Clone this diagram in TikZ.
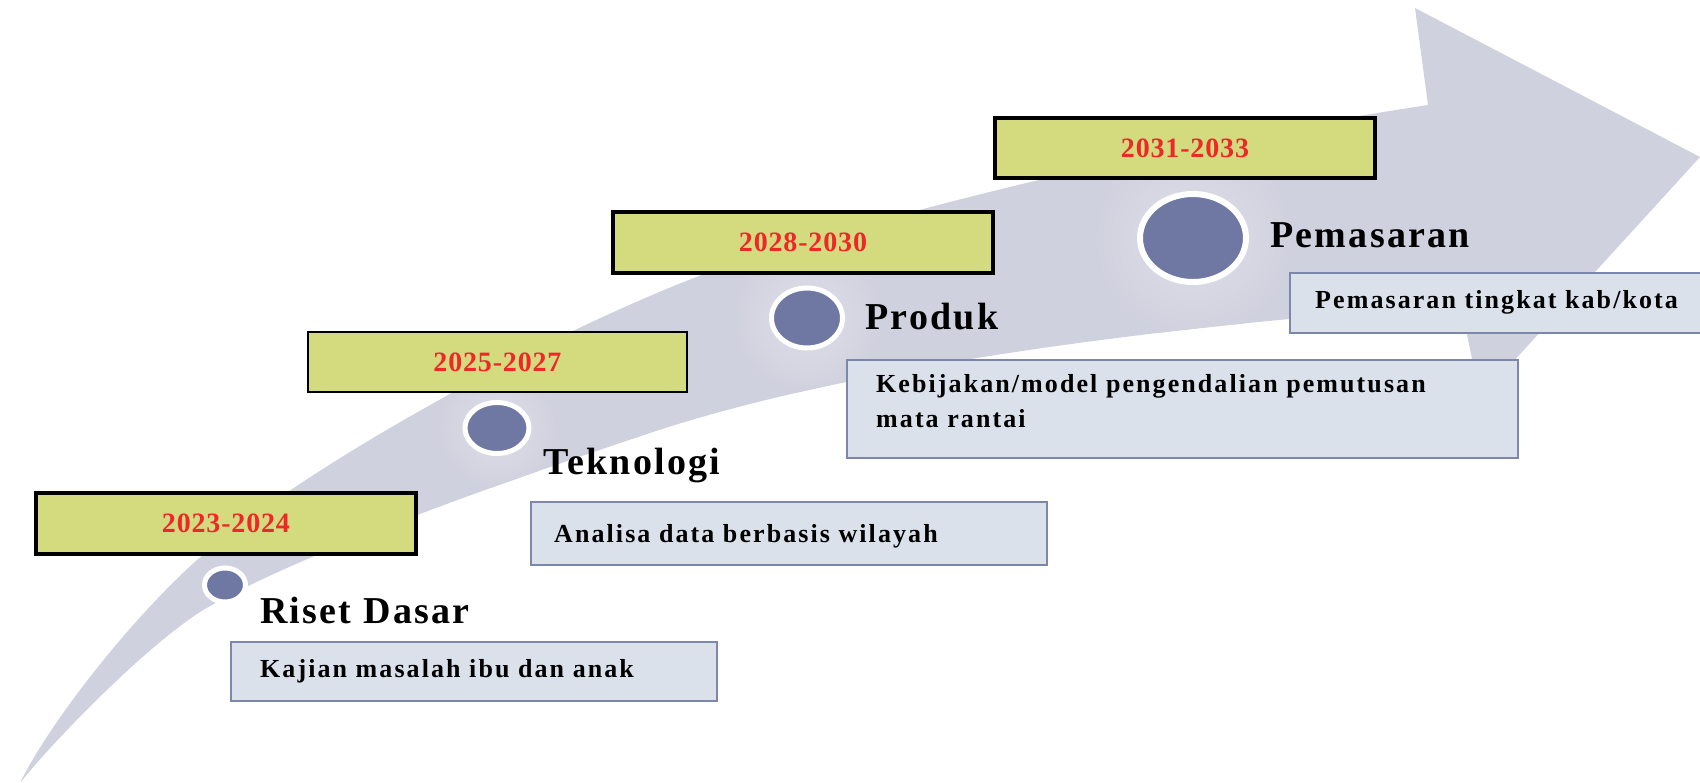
\documentclass[tikz,border=0pt]{standalone}
\usepackage{fontspec}
\usetikzlibrary{shapes.geometric}
\newfontfamily\yrfont[LetterSpace=3]{Liberation Serif}
\newfontfamily\stfont[LetterSpace=6]{Liberation Serif}
\newfontfamily\bxfont[LetterSpace=8]{Liberation Serif}
\definecolor{arrowgray}{RGB}{208,209,222}
\definecolor{glowgray}{RGB}{222,223,232}
\definecolor{yearfill}{RGB}{212,218,126}
\definecolor{yeartext}{RGB}{238,40,40}
\definecolor{dotfill}{RGB}{110,120,162}
\definecolor{boxfill}{RGB}{218,225,235}
\definecolor{boxline}{RGB}{125,135,170}
\begin{document}
\begin{tikzpicture}[x=1pt,y=-1pt,
  yearbox/.style={draw=black, line width=3.5pt, fill=yearfill, inner sep=0pt,
    text=yeartext, font=\yrfont\bfseries\fontsize{28}{34}\selectfont},
  infobox/.style={draw=boxline, line width=2pt, fill=boxfill, inner sep=0pt},
  infotext/.style={anchor=base west, inner sep=0pt, text=black,
    font=\bxfont\bfseries\fontsize{26}{36}\selectfont},
  stagetext/.style={anchor=base west, inner sep=0pt, text=black,
    font=\stfont\bfseries\fontsize{38}{44}\selectfont},
  dot/.style={ellipse, fill=dotfill, draw=white, line width=5pt, inner sep=0pt}]
\useasboundingbox (0,0) rectangle (1700,783);
\fill[white] (0,0) rectangle (1700,783);
% curved arrow
\begin{scope}
\clip (20,783) .. controls (50,722) and (130,620) .. (197,560)
  .. controls (330,447) and (580,320) .. (707,273)
  .. controls (950,193) and (1200,140) .. (1428,105)
  -- (1415,8) -- (1700,157) -- (1480,398) -- (1461,305)
  .. controls (1200,323) and (870,360) .. (650,433)
  .. controls (500,483) and (290,557) .. (200,612)
  .. controls (140,651) and (50,745) .. (20,783) -- cycle;
\fill[arrowgray] (0,0) rectangle (1700,783);
\shade[inner color=glowgray, outer color=arrowgray] (497,428) circle[radius=60pt];
\shade[inner color=glowgray, outer color=arrowgray] (807,318) circle[radius=75pt];
\shade[inner color=glowgray, outer color=arrowgray] (1193,238) circle[radius=100pt];
\end{scope}
% year boxes
\node[yearbox, minimum width=380pt, minimum height=61pt] (y1) at (226,523.5) {2023-2024};
\node[yearbox, line width=2.5pt, minimum width=379pt, minimum height=60pt] (y2) at (497.5,362) {2025-2027};
\node[yearbox, minimum width=380pt, minimum height=61pt] (y3) at (803,242.5) {2028-2030};
\node[yearbox, minimum width=380pt, minimum height=60pt] (y4) at (1185,148) {2031-2033};
% dots
\node[dot, minimum width=41pt, minimum height=34pt] (c1) at (225,585) {};
\node[dot, minimum width=64pt, minimum height=51pt] (c2) at (497,428) {};
\node[dot, minimum width=71pt, minimum height=60pt] (c3) at (807,318) {};
\node[dot, line width=6pt, minimum width=106pt, minimum height=88pt] (c4) at (1193,238) {};
% stage labels
\node[stagetext] (s1) at (260,623) {Riset Dasar};
\node[stagetext] (s2) at (543,474) {Teknologi};
\node[stagetext] (s3) at (865,330) {Produk};
\node[stagetext] (s4) at (1270,248) {Pemasaran};
% info boxes
\node[infobox, minimum width=486pt, minimum height=59pt] (b1) at (474,671.5) {};
\node[infobox, minimum width=516pt, minimum height=63pt] (b2) at (789,533.5) {};
\node[infobox, minimum width=671pt, minimum height=98pt] (b3) at (1182.5,409) {};
\node[infobox, minimum width=411pt, minimum height=60pt] (b4) at (1495.5,303) {};
\node[infotext] (t1) at (260,677) {Kajian masalah ibu dan anak};
\node[infotext] (t2) at (554,542) {Analisa data berbasis wilayah};
\node[infotext] (t3a) at (876,392) {Kebijakan/model pengendalian pemutusan};
\node[infotext] (t3b) at (876,428) {mata rantai};
\node[infotext] (t4) at (1315,309) {Pemasaran tingkat kab/kota};
\end{tikzpicture}
\end{document}
